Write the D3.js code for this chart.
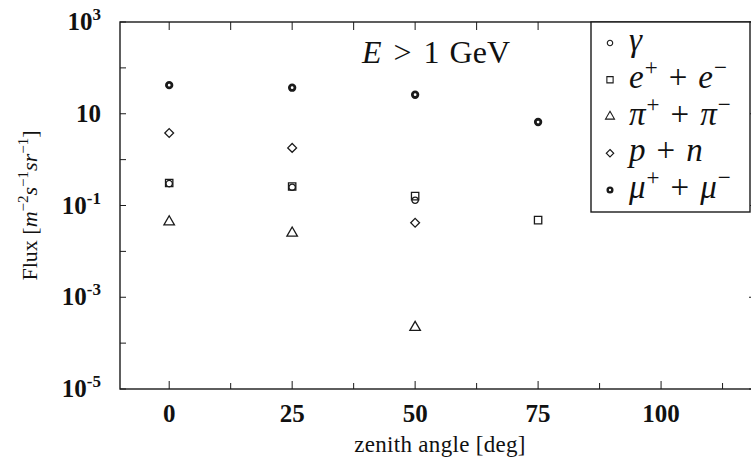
<!DOCTYPE html>
<html>
<head>
<meta charset="utf-8">
<script src="https://cdn.jsdelivr.net/npm/d3@7"></script>
<style>
  body { margin: 0; background: #fff; }
  svg { display: block; }
  text { fill: #111; }
</style>
</head>
<body>
<div id="chart"></div>
<script>
// data
var angles = [0, 25, 50, 75];
var gammaFlux = [0.3, 0.25, 0.13, null];
var electronFlux = [0.31, 0.26, 0.16, 0.048];
var pionFlux = [0.044, 0.025, 0.00022, null];
var nucleonFlux = [3.8, 1.8, 0.042, null];
var muonFlux = [42, 37, 26, 6.6];

var xTicks = [0, 25, 50, 75, 100];
var xMinor = [12.5, 37.5, 62.5, 87.5, 112.5];
var yLabeled = [1e3, 1e1, 1e-1, 1e-3, 1e-5];
var yAll = [1e3, 1e2, 1e1, 1, 1e-1, 1e-2, 1e-3, 1e-4, 1e-5];

var svgWidth = 751;
var svgHeight = 470;
var frame = {left: 120, top: 22, right: 756, bottom: 389};

var svg = d3.select('#chart')
    .append('svg')
    .attr('width', svgWidth)
    .attr('height', svgHeight);

var x = d3.scaleLinear()
    .domain([-10, 119.3])
    .range([frame.left, frame.right]);

var y = d3.scaleLog()
    .domain([1e-5, 1e3])
    .range([frame.bottom, frame.top]);

var ink = '#1a1a1a';
var serif = 'Liberation Serif, serif';

// frame
svg.append('rect')
    .attr('x', frame.left)
    .attr('y', frame.top)
    .attr('width', frame.right - frame.left)
    .attr('height', frame.bottom - frame.top)
    .attr('fill', 'none')
    .attr('stroke', ink)
    .attr('stroke-width', 1.4);

// x ticks, bottom and top
var xAll = xTicks.concat(xMinor);
svg.selectAll('.xtb')
    .data(xAll)
    .enter()
    .append('line')
    .attr('x1', d => x(d)).attr('x2', d => x(d))
    .attr('y1', frame.bottom).attr('y2', d => frame.bottom - (xTicks.includes(d) ? 8 : 6))
    .attr('stroke', ink);
svg.selectAll('.xtt')
    .data(xAll)
    .enter()
    .append('line')
    .attr('x1', d => x(d)).attr('x2', d => x(d))
    .attr('y1', frame.top).attr('y2', frame.top + 8)
    .attr('stroke', ink);

svg.selectAll('.xlab')
    .data(xTicks)
    .enter()
    .append('text')
    .attr('x', d => x(d))
    .attr('y', frame.bottom + 33)
    .attr('text-anchor', 'middle')
    .attr('font-family', serif)
    .attr('font-weight', 'bold')
    .attr('font-size', '25px')
    .text(d => d);

// y ticks, left and right
svg.selectAll('.ytl')
    .data(yAll)
    .enter()
    .append('line')
    .attr('x1', frame.left).attr('x2', frame.left + 6)
    .attr('y1', d => y(d)).attr('y2', d => y(d))
    .attr('stroke', ink);
svg.selectAll('.ytr')
    .data(yLabeled)
    .enter()
    .append('line')
    .attr('x1', frame.right).attr('x2', frame.right - 7)
    .attr('y1', d => y(d)).attr('y2', d => y(d))
    .attr('stroke', ink);

var ylab = svg.selectAll('.ylab')
    .data(yLabeled)
    .enter()
    .append('text')
    .attr('x', frame.left - 19)
    .attr('y', d => y(d) + 8)
    .attr('text-anchor', 'end')
    .attr('font-family', serif)
    .attr('font-weight', 'bold')
    .attr('font-size', '25px');
ylab.append('tspan').text('10');
ylab.append('tspan')
    .attr('dy', -10)
    .attr('font-size', '17px')
    .text(d => {
        var e = Math.round(Math.log10(d));
        return e === 1 ? '' : (e < 0 ? '-' + (-e) : e);
    });

// axis titles
svg.append('text')
    .attr('x', 440)
    .attr('y', frame.bottom + 63)
    .attr('text-anchor', 'middle')
    .attr('font-family', serif)
    .attr('font-size', '23px')
    .attr('letter-spacing', '0.3px')
    .text('zenith angle [deg]');

var yTitle = svg.append('text')
    .attr('transform', `translate(37,${(frame.top + frame.bottom) / 2}) rotate(-90)`)
    .attr('text-anchor', 'middle')
    .attr('font-family', serif)
    .attr('font-size', '22px');
yTitle.append('tspan').text('Flux [');
yTitle.append('tspan').attr('font-style', 'italic').text('m');
yTitle.append('tspan').attr('dy', -9).attr('font-size', '15px').text('−2');
yTitle.append('tspan').attr('dy', 9).attr('font-style', 'italic').text('s');
yTitle.append('tspan').attr('dy', -9).attr('font-size', '15px').text('−1');
yTitle.append('tspan').attr('dy', 9).attr('font-style', 'italic').text('sr');
yTitle.append('tspan').attr('dy', -9).attr('font-size', '15px').text('−1');
yTitle.append('tspan').attr('dy', 9).text(']');

// title
var title = svg.append('text')
    .attr('x', 362)
    .attr('y', 63)
    .attr('font-family', serif)
    .attr('font-size', '32px');
title.append('tspan').attr('font-style', 'italic').text('E');
title.append('tspan').attr('dx', 12).text('>');
title.append('tspan').attr('dx', 12).text('1');
title.append('tspan').attr('dx', 10).text('GeV');

// marker shapes
var diamond = function() {
    var s = 4.4;
    return `M0,${-s}L${s},0L0,${s}L${-s},0Z`;
};
var shapes = {
    gamma: d3.symbol().type(d3.symbolCircle).size(32),
    electron: d3.symbol().type(d3.symbolSquare).size(54),
    pion: d3.symbol().type(d3.symbolTriangle).size(48),
    nucleon: diamond,
    muon: d3.symbol().type(d3.symbolCircle).size(24)
};

var series = [
    {key: 'gamma', values: gammaFlux},
    {key: 'electron', values: electronFlux},
    {key: 'pion', values: pionFlux},
    {key: 'nucleon', values: nucleonFlux},
    {key: 'muon', values: muonFlux}
];

function styleMarker(sel, key) {
    sel.attr('fill', 'none')
        .attr('stroke', ink)
        .attr('stroke-width', key === 'muon' ? 2.8 : 1.3);
}

series.forEach(function(s) {
    var pts = angles.map((a, i) => ({a: a, v: s.values[i]})).filter(p => p.v != null);
    svg.selectAll('.pt-' + s.key)
        .data(pts)
        .enter()
        .append('path')
        .attr('d', shapes[s.key]())
        .attr('transform', d => `translate(${x(d.a)},${y(d.v)})`)
        .call(styleMarker, s.key);
});

// legend
var legend = {left: 591, top: 22, right: 750, bottom: 212};
svg.append('rect')
    .attr('x', legend.left)
    .attr('y', legend.top)
    .attr('width', legend.right - legend.left)
    .attr('height', legend.bottom - legend.top)
    .attr('fill', '#fff')
    .attr('stroke', ink)
    .attr('stroke-width', 1.4);

var legendRows = [
    {key: 'gamma', parts: [['γ', 'i']]},
    {key: 'electron', parts: [['e', 'i'], ['+', 's'], ['+', 'o'], ['e', 'i'], ['−', 's']]},
    {key: 'pion', parts: [['π', 'i'], ['+', 's'], ['+', 'o'], ['π', 'i'], ['−', 's']]},
    {key: 'nucleon', parts: [['p', 'i'], ['+', 'o'], ['n', 'i']]},
    {key: 'muon', parts: [['μ', 'i'], ['+', 's'], ['+', 'o'], ['μ', 'i'], ['−', 's']]}
];

var rowY = d3.scaleLinear().domain([0, 4]).range([43, 190]);

legendRows.forEach(function(r, i) {
    svg.append('path')
        .attr('d', shapes[r.key]())
        .attr('transform', `translate(610,${rowY(i)}) scale(0.85)`)
        .call(styleMarker, r.key);
    var t = svg.append('text')
        .attr('x', 629)
        .attr('y', rowY(i) + 8)
        .attr('font-family', serif)
        .attr('font-size', '33px');
    var lifted = false;
    var afterOp = false;
    r.parts.forEach(function(p) {
        var ts = t.append('tspan').text(p[0]);
        if (p[1] === 'i') ts.attr('font-style', 'italic');
        if (p[1] === 's') {
            ts.attr('dy', -13).attr('font-size', '23px').attr('dx', 1);
            lifted = true;
            return;
        }
        var dx = 0;
        if (p[1] === 'o') dx = 11;
        if (afterOp) dx = 11;
        afterOp = p[1] === 'o';
        if (lifted) {
            ts.attr('dy', 13);
            lifted = false;
        }
        if (dx) ts.attr('dx', dx);
    });
});
</script>
</body>
</html>
